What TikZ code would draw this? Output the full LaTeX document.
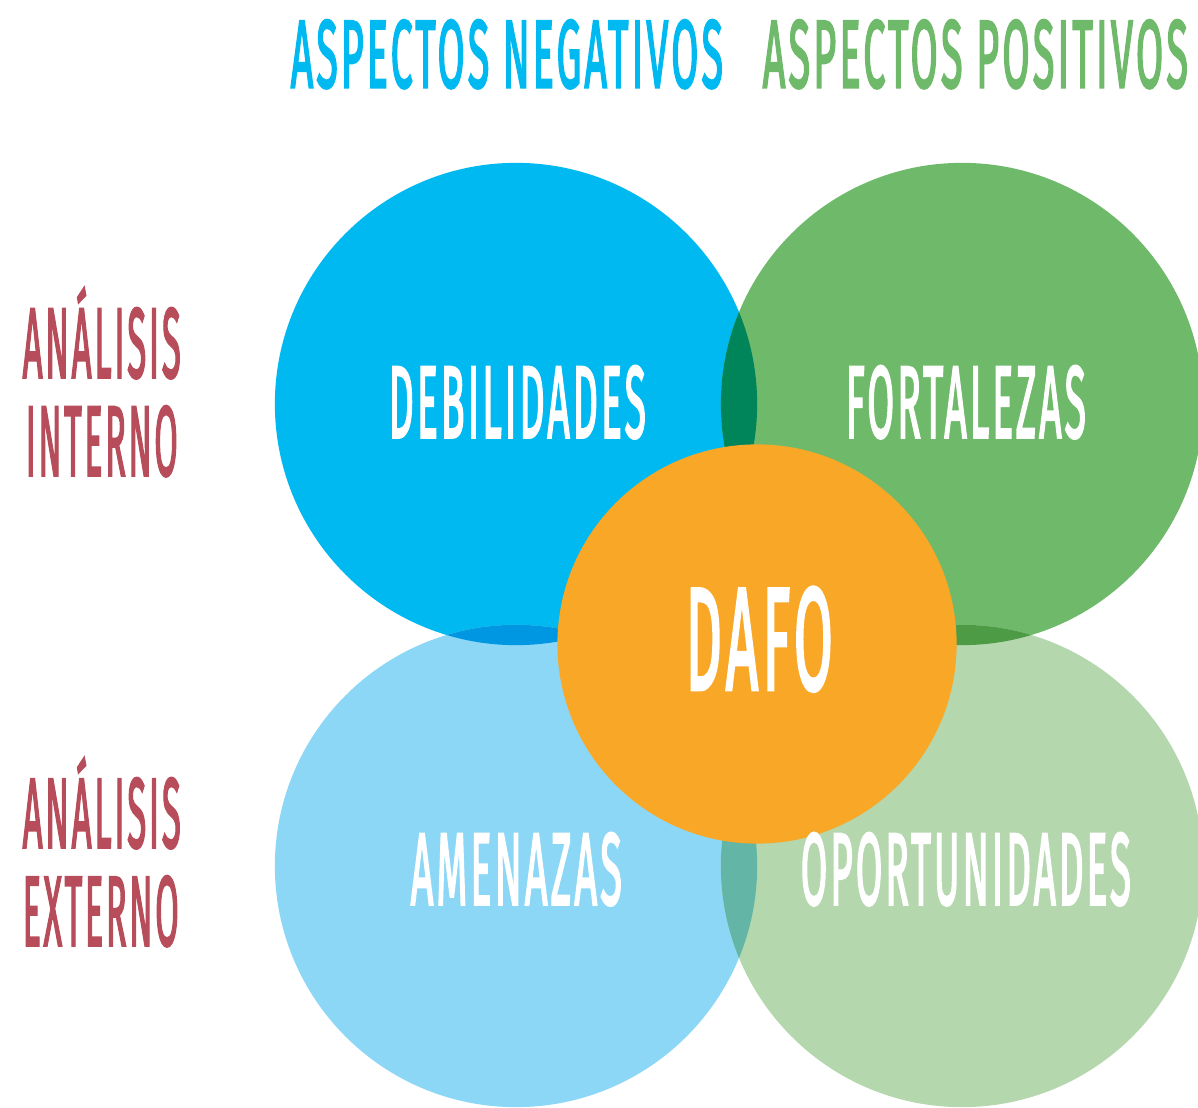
\documentclass[tikz,border=0pt]{standalone}
\usepackage{fontspec}
\setmainfont{Fira Sans}
\newfontfamily\lblfont{Fira Sans}[LetterSpace=8, FakeBold=3]
\usepackage{graphicx}

\definecolor{debcol}{HTML}{00B9F0}
\definecolor{forcol}{HTML}{6FBA6A}
\definecolor{amecol}{HTML}{8DD7F6}
\definecolor{opocol}{HTML}{B5D7AE}
\definecolor{dafocol}{HTML}{F9A727}
\definecolor{dfcol}{HTML}{00855A}
\definecolor{dacol}{HTML}{0097E2}
\definecolor{focol}{HTML}{4E9B45}
\definecolor{aocol}{HTML}{63B5A5}
\definecolor{anacol}{HTML}{B74C5A}

% squeeze a caps label to a given width and cap height
\newcommand{\fitlabel}[3]{\resizebox{#1}{#2}{\raisebox{0pt}[\fontcharht\font`H][0pt]{#3}}}

\tikzset{lbl/.style={inner sep=0pt, anchor=south west, font=\lblfont}}

\begin{document}
\begin{tikzpicture}[x=0.01cm, y=-0.01cm]
\useasboundingbox (0,0) rectangle (1198,1107);

\coordinate (deb) at (516,404);
\coordinate (for) at (962,404);
\coordinate (ame) at (516,866);
\coordinate (opo) at (962,866);
\coordinate (dafo) at (757,644);

\fill [debcol] (deb) circle [radius=2.41cm];
\fill [forcol] (for) circle [radius=2.41cm];
\fill [amecol] (ame) circle [radius=2.41cm];
\fill [opocol] (opo) circle [radius=2.41cm];

\begin{scope}
\clip (deb) circle [radius=2.41cm];
\fill [dfcol] (for) circle [radius=2.41cm];
\fill [dacol] (ame) circle [radius=2.41cm];
\end{scope}
\begin{scope}
\clip (opo) circle [radius=2.41cm];
\fill [focol] (for) circle [radius=2.41cm];
\fill [aocol] (ame) circle [radius=2.41cm];
\end{scope}

\fill [dafocol] (dafo) circle [radius=1.995cm];

\node [lbl, text=debcol] (neg) at (290,88) {\fitlabel{4.32cm}{0.66cm}{ASPECTOS NEGATIVOS}};
\node [lbl, text=forcol] (pos) at (762,88) {\fitlabel{4.25cm}{0.66cm}{ASPECTOS POSITIVOS}};

\node [lbl, text=white] (debtxt) at (388,438) {\fitlabel{2.57cm}{0.70cm}{DEBILIDADES}};
\node [lbl, text=white] (fortxt) at (845,438) {\fitlabel{2.40cm}{0.70cm}{FORTALEZAS}};
\node [lbl, text=white] (dafotxt) at (685,690) {\fitlabel{1.47cm}{1.00cm}{DAFO}};
\node [lbl, text=white] (ametxt) at (410,905) {\fitlabel{2.11cm}{0.70cm}{AMENAZAS}};
\node [lbl, text=white] (opotxt) at (800,905) {\fitlabel{3.30cm}{0.70cm}{OPORTUNIDADES}};

\node [lbl, text=anacol] (int1) at (22,378) {\fitlabel{1.58cm}{0.68cm}{ANÁLISIS}};
\node [lbl, text=anacol] (int2) at (25,476) {\fitlabel{1.52cm}{0.68cm}{INTERNO}};
\node [lbl, text=anacol] (ext1) at (22,848) {\fitlabel{1.58cm}{0.68cm}{ANÁLISIS}};
\node [lbl, text=anacol] (ext2) at (22,946) {\fitlabel{1.56cm}{0.68cm}{EXTERNO}};
\end{tikzpicture}
\end{document}
